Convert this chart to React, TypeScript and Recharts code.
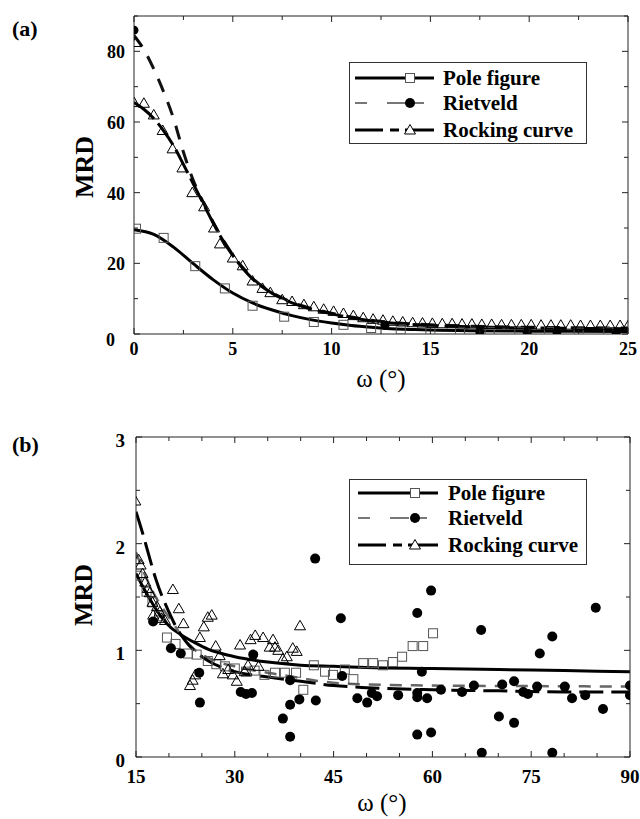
import React from "react";
import { ComposedChart, Line, Scatter, XAxis, YAxis, Legend } from "recharts";

type P = [number, number];
const FONT = "Liberation Serif, Times New Roman, DejaVu Serif, serif";

// ---------- Panel (a) ----------
const xTicksA = [0, 2.5, 5, 7.5, 10, 12.5, 15, 17.5, 20, 22.5, 25];
const yTicksA = [0, 10, 20, 30, 40, 50, 60, 70, 80, 90];
const poleA: P[] = [[0.1,29.8],[1.5,27.2],[3.1,19.2],[4.6,12.9],[6.0,8.0],[7.6,4.9],[9.1,3.4],[10.6,2.6],[12.0,1.7],[13.5,1.3],[15.0,0.7],[16.5,0.6],[18.0,0.6],[19.5,0.5],[21.0,0.6],[22.5,0.4],[24.0,0.5]];
const rietA: P[] = [[0,86],[12.7,2.5],[17.5,0.6],[19.9,0.5],[21.4,0.6],[24.4,0.2]];
const rockA: P[] = [[0.1,82.5],[0,65.5],[0.5,65.3],[1.0,62],[1.45,57.6],[1.95,52.4],[2.45,47],[2.95,40],[3.55,36],[4.05,30],[4.35,25.5],[5.0,21.5],[5.5,19.3],[6.0,15],[6.5,12.9],[6.9,11.7],[7.5,9.7],[8.0,9.2],[8.6,8.3],[9.1,7.7],[9.6,7.0],[10.1,6.4],[10.6,5.8],[11.1,5.2],[11.6,4.6],[12.1,4.2],[12.6,3.9],[13.1,3.6],[13.6,3.4],[14.1,3.2],[14.6,3.1],[15.1,3.0],[15.6,2.9],[16.1,2.9],[16.6,2.8],[17.1,2.8],[17.6,2.7],[18.1,2.7],[18.6,2.6],[19.1,2.6],[19.6,2.6],[20.1,2.6],[20.6,2.5],[21.1,2.5],[21.6,2.5],[22.1,2.5],[22.6,2.4],[23.1,2.4],[23.6,2.4],[24.1,2.4],[24.6,2.4],[25.0,2.3]];
const poleFitA: P[] = [[0,29.5],[1,28.2],[2,24.6],[3,19.9],[4,15.4],[5,11.6],[6,8.8],[7,6.8],[8,5.2],[9,4.0],[10,3.1],[11,2.4],[12,1.9],[13,1.5],[14,1.3],[15,1.1],[17,0.9],[20,0.8],[25,0.7]];
const rockFitA: P[] = [[0,65.5],[0.5,63.6],[1,61],[1.5,57.5],[2,53.3],[2.5,48],[3,42.5],[3.5,37],[4,31.5],[4.5,26.5],[5,22.2],[5.5,18.6],[6,15.6],[7,11.5],[8,8.8],[9,7],[10,5.7],[11,4.6],[12,3.7],[13,3.1],[14,2.7],[16,2.2],[18,1.9],[20,1.7],[22,1.6],[25,1.5]];
const rietFitA: P[] = [[0,84.5],[0.5,80.5],[1,75],[1.5,68.5],[2,61],[2.5,51.5],[3,43.5],[3.5,37.3],[4,31.7],[4.5,26.7],[5,22.4],[5.5,18.8],[6,15.8],[7,11.7],[8,9],[9,7.2],[10,5.9],[11,4.8],[12,3.9],[13,3.3],[14,2.9],[16,2.4],[18,2.1],[20,1.9],[22,1.8],[25,1.7]];

// ---------- Panel (b) ----------
const xTicksB = [15,20,25,30,35,40,45,50,55,60,65,70,75,80,85,90];
const yTicksB = [0, 0.5, 1, 1.5, 2, 2.5, 3];
const poleB: P[] = [[15.2,1.70],[16.6,1.55],[17.5,1.45],[18.5,1.32],[19.7,1.12],[21.0,1.06],[22.9,0.97],[24.2,0.96],[25.9,0.90],[27.2,0.87],[28.5,0.85],[30.0,0.83],[31.7,0.80],[33.0,0.81],[34.5,0.77],[36.1,0.79],[37.6,0.79],[39.3,0.79],[40.4,0.63],[42.0,0.86],[43.7,0.80],[44.9,0.77],[46.7,0.82],[48.0,0.73],[49.5,0.88],[51.0,0.88],[52.5,0.86],[54.0,0.89],[55.4,0.94],[57.0,1.04],[58.6,1.04],[60.1,1.16]];
const rietB: P[] = [[17.6,1.27],[20.3,1.02],[21.8,0.97],[24.6,0.79],[24.7,0.51],[30.9,0.61],[31.7,0.59],[32.6,0.60],[32.8,0.96],[37.3,0.36],[38.4,0.72],[38.4,0.49],[38.4,0.19],[39.8,0.54],[42.2,1.86],[42.3,0.53],[46.1,1.30],[46.3,0.76],[48.6,0.55],[50.1,0.51],[50.8,0.60],[51.6,0.57],[54.8,0.58],[57.7,1.35],[57.7,0.21],[57.7,0.60],[57.7,0.56],[58.4,0.80],[59.2,0.55],[59.8,1.56],[59.8,0.23],[61.3,0.63],[64.5,0.61],[66.3,0.67],[67.4,1.19],[67.5,0.04],[70.1,0.38],[70.6,0.68],[72.4,0.71],[72.4,0.32],[73.8,0.61],[74.5,0.59],[75.9,0.66],[76.3,0.97],[78.2,1.13],[78.2,0.04],[80.1,0.66],[81.2,0.55],[83.2,0.58],[84.8,1.40],[85.9,0.45],[90.0,0.67],[90.0,0.58]];
const rockB: P[] = [[14.9,2.40],[15.4,1.85],[15.7,1.80],[16.0,1.72],[16.4,1.64],[16.8,1.58],[17.1,1.54],[17.5,1.45],[17.6,1.33],[18.2,1.41],[18.6,1.36],[18.9,1.30],[19.4,1.28],[20.6,1.57],[21.5,1.39],[22.2,1.25],[23.2,0.67],[23.6,0.72],[24.0,0.77],[24.7,1.12],[25.3,1.22],[25.9,1.31],[26.5,1.33],[27.1,1.04],[27.7,0.95],[28.2,0.78],[29.0,0.82],[29.7,0.77],[30.3,0.71],[30.8,1.05],[31.5,0.80],[32.0,0.86],[32.4,1.10],[33.1,1.14],[33.6,0.85],[34.3,1.12],[35.3,1.03],[35.8,1.10],[36.1,1.03],[36.6,1.00],[37.3,0.92],[37.9,0.94],[38.8,1.02],[39.4,0.99],[39.9,1.23]];
const poleFitB: P[] = [[15,1.72],[16,1.6],[17,1.49],[18,1.39],[19,1.3],[20,1.23],[22,1.14],[24,1.07],[26,1.01],[28,0.97],[30,0.94],[35,0.89],[40,0.86],[45,0.85],[50,0.84],[60,0.83],[70,0.82],[80,0.81],[90,0.8]];
const rockFitB: P[] = [[15,2.3],[16,2.1],[17,1.88],[18,1.67],[19,1.5],[20,1.36],[21,1.23],[22,1.13],[23,1.05],[24,0.99],[26,0.9],[28,0.84],[30,0.8],[35,0.75],[40,0.71],[45,0.67],[50,0.65],[60,0.63],[70,0.62],[80,0.61],[90,0.61]];
const rietFitB: P[] = [[15,1.92],[16,1.76],[17,1.62],[18,1.5],[19,1.4],[20,1.31],[21,1.22],[22,1.13],[23,1.06],[24,1.0],[26,0.93],[28,0.88],[30,0.85],[33,0.81],[36,0.78],[40,0.74],[43,0.71],[46,0.69],[50,0.68],[60,0.67],[75,0.665],[90,0.66]];

const legendLabels = ["Pole figure", "Rietveld", "Rocking curve"];

const toObj = (a: P[]) => a.map(([x, y]) => ({ x, y }));
const txt = (size: number, bold: boolean) => ({ fontFamily: FONT, fontSize: size, fontWeight: bold ? 700 : 400 } as React.CSSProperties);

// ---------- marker shapes ----------
const Square = (p: any) => (
  <rect x={p.cx - 4.5} y={p.cy - 4.5} width={9} height={9} fill="none" stroke="#555" strokeWidth={1} />
);
const Tri = (p: any) => (
  <polygon points={`${p.cx},${p.cy - 5.5} ${p.cx - 5.5},${p.cy + 4} ${p.cx + 5.5},${p.cy + 4}`} fill="none" stroke="#000" strokeWidth={1} />
);
const makeDot = (r: number) => (p: any) => <circle cx={p.cx} cy={p.cy} r={r} fill="#000" />;

// ---------- ticks ----------
type Side = "bottom" | "left" | "top" | "right";
const makeTick = (side: Side, isMajor: (v: number) => boolean, fs: number, panel: "a" | "b") => (props: any) => {
  const { x, y, payload } = props;
  const v = payload.value;
  const major = isMajor(v);
  const L = major ? 6 : 4;
  let line = null;
  let label = null;
  if (side === "bottom") {
    line = <line x1={x} y1={y} x2={x} y2={y - L} stroke="#222" />;
    if (major)
      label = (
        <text x={x} y={y + (panel === "a" ? 21 : 26)} textAnchor="middle" style={txt(fs, true)} fill="#000">
          {v}
        </text>
      );
  } else if (side === "top") {
    line = <line x1={x} y1={y} x2={x} y2={y + L} stroke="#222" />;
  } else if (side === "left") {
    line = <line x1={x} y1={y} x2={x + L} y2={y} stroke="#222" />;
    if (major) {
      const zeroA = panel === "a" && v === 0;
      label = (
        <text x={x - (zeroA ? 19 : panel === "a" ? 9 : 11)} y={y + (zeroA ? 12 : panel === "a" ? 7 : 10)} textAnchor="end" style={txt(fs, true)} fill="#000">
          {v}
        </text>
      );
    }
  } else {
    line = <line x1={x} y1={y} x2={x - L} y2={y} stroke="#222" />;
  }
  return (
    <g>
      {line}
      {label}
    </g>
  );
};

// ---------- legend ----------
const LegendBox = ({ w, h, rows, lx0, lx1, mx, tx }: any) => (
  <svg width={w} height={h} style={{ display: "block" }}>
    <rect x={0.5} y={0.5} width={w - 1} height={h - 1} fill="#fff" stroke="#333" strokeWidth={1} />
    <line x1={lx0} y1={rows[0]} x2={lx1} y2={rows[0]} stroke="#000" strokeWidth={3} />
    <rect x={mx - 4.5} y={rows[0] - 4.5} width={9} height={9} fill="#fff" stroke="#555" />
    <line x1={lx0} y1={rows[1]} x2={lx1} y2={rows[1]} stroke="#777" strokeWidth={2} strokeDasharray="12 20 19 6" />
    <circle cx={mx} cy={rows[1]} r={5} fill="#000" />
    <line x1={lx0} y1={rows[2]} x2={lx1} y2={rows[2]} stroke="#000" strokeWidth={3} strokeDasharray="28 7 9 6 40" />
    <polygon points={`${mx},${rows[2] - 5.5} ${mx - 5.5},${rows[2] + 4} ${mx + 5.5},${rows[2] + 4}`} fill="#fff" stroke="#000" />
    {legendLabels.map((t, i) => (
      <text key={t} x={tx} y={rows[i] + 7} style={txt(21, true)} fill="#000">
        {t}
      </text>
    ))}
  </svg>
);

const lineCommon = { type: "monotone" as const, dataKey: "y", dot: false, activeDot: false, isAnimationActive: false, legendType: "none" as const };

export default function App() {
  const majorXA = (v: number) => v % 5 === 0;
  const majorYA = (v: number) => v % 20 === 0;
  const majorXB = (v: number) => v % 15 === 0;
  const majorYB = (v: number) => Number.isInteger(v);
  return (
    <div style={{ position: "absolute", left: 0, top: 0, width: 640, height: 819, background: "#fff" }}>
      {/* Panel (a) */}
      <div style={{ position: "absolute", left: 0, top: 0 }}>
        <ComposedChart width={640} height={400} margin={{ top: 15, right: 11, bottom: 36, left: 94 }}>
          <XAxis xAxisId="b" dataKey="x" type="number" domain={[0, 25]} ticks={xTicksA} interval={0} tickSize={0} tickMargin={0} height={30}
            tick={makeTick("bottom", majorXA, 18, "a")} stroke="#222" allowDataOverflow
            label={{ content: () => (<text x={381} y={387} textAnchor="middle" style={txt(25, false)} fill="#000">ω (°)</text>) }} />
          <XAxis xAxisId="t" orientation="top" dataKey="x" type="number" domain={[0, 25]} ticks={xTicksA} interval={0} tickSize={0} tickMargin={0} height={1}
            tick={makeTick("top", majorXA, 18, "a")} stroke="#222" allowDataOverflow />
          <YAxis yAxisId="l" dataKey="y" type="number" domain={[0, 90]} ticks={yTicksA} interval={0} tickSize={0} tickMargin={0} width={40}
            tick={makeTick("left", majorYA, 18, "a")} stroke="#222" allowDataOverflow
            label={{ content: () => (
              <g>
                <text x={12} y={36} style={txt(22, true)} fill="#000">(a)</text>
                <text x={84} y={167} transform="rotate(-90 84 167)" textAnchor="middle" dominantBaseline="central" style={txt(26, true)} fill="#000">MRD</text>
              </g>
            ) }} />
          <YAxis yAxisId="r" orientation="right" dataKey="y" type="number" domain={[0, 90]} ticks={yTicksA} interval={0} tickSize={0} tickMargin={0} width={1}
            tick={makeTick("right", majorYA, 18, "a")} stroke="#222" allowDataOverflow />
          <Line xAxisId="t" yAxisId="r" data={toObj(poleFitA)} stroke="#000" strokeWidth={3} {...lineCommon} />
          <Line xAxisId="b" yAxisId="l" data={toObj(rietFitA)} stroke="#111" strokeWidth={3} strokeDasharray="14 11" {...lineCommon} />
          <Line xAxisId="b" yAxisId="l" data={toObj(rockFitA)} stroke="#000" strokeWidth={3} strokeDasharray="26 6" {...lineCommon} />
          <Scatter xAxisId="b" yAxisId="l" data={toObj(poleA)} shape={Square} isAnimationActive={false} legendType="none" />
          <Scatter xAxisId="b" yAxisId="l" data={toObj(rockA)} shape={Tri} isAnimationActive={false} legendType="none" />
          <Scatter xAxisId="b" yAxisId="l" data={toObj(rietA)} shape={makeDot(4.5)} isAnimationActive={false} legendType="none" />
          <Legend layout="horizontal" verticalAlign="middle" align="center"
            wrapperStyle={{ position: "absolute", left: 349, top: 62, width: 238, height: 82 }}
            content={() => <LegendBox w={238} h={82} rows={[16, 41, 68]} lx0={6} lx1={85} mx={61} tx={94} />} />
        </ComposedChart>
      </div>

      {/* Panel (b) */}
      <div style={{ position: "absolute", left: 0, top: 400 }}>
        <ComposedChart width={640} height={419} margin={{ top: 36, right: 9, bottom: 32, left: 96 }}>
          <XAxis xAxisId="b" dataKey="x" type="number" domain={[15, 90]} ticks={xTicksB} interval={0} tickSize={0} tickMargin={0} height={30}
            tick={makeTick("bottom", majorXB, 19, "b")} stroke="#222" allowDataOverflow
            label={{ content: () => (<text x={382} y={411} textAnchor="middle" style={txt(25, false)} fill="#000">ω (°)</text>) }} />
          <XAxis xAxisId="t" orientation="top" dataKey="x" type="number" domain={[15, 90]} ticks={xTicksB} interval={0} tickSize={0} tickMargin={0} height={1}
            tick={makeTick("top", majorXB, 19, "b")} stroke="#222" allowDataOverflow />
          <YAxis yAxisId="l" dataKey="y" type="number" domain={[0, 3]} ticks={yTicksB} interval={0} tickSize={0} tickMargin={0} width={40}
            tick={makeTick("left", majorYB, 19, "b")} stroke="#222" allowDataOverflow
            label={{ content: () => (
              <g>
                <text x={12} y={52} style={txt(22, true)} fill="#000">(b)</text>
                <text x={83} y={195} transform="rotate(-90 83 195)" textAnchor="middle" dominantBaseline="central" style={txt(26, true)} fill="#000">MRD</text>
              </g>
            ) }} />
          <YAxis yAxisId="r" orientation="right" dataKey="y" type="number" domain={[0, 3]} ticks={yTicksB} interval={0} tickSize={0} tickMargin={0} width={1}
            tick={makeTick("right", majorYB, 19, "b")} stroke="#222" allowDataOverflow />
          <Line xAxisId="t" yAxisId="r" data={toObj(poleFitB)} stroke="#000" strokeWidth={3} {...lineCommon} />
          <Line xAxisId="b" yAxisId="l" data={toObj(rietFitB)} stroke="#666" strokeWidth={2.5} strokeDasharray="12 9" {...lineCommon} />
          <Line xAxisId="b" yAxisId="l" data={toObj(rockFitB)} stroke="#000" strokeWidth={3} strokeDasharray="24 8" {...lineCommon} />
          <Scatter xAxisId="b" yAxisId="l" data={toObj(poleB)} shape={Square} isAnimationActive={false} legendType="none" />
          <Scatter xAxisId="b" yAxisId="l" data={toObj(rockB)} shape={Tri} isAnimationActive={false} legendType="none" />
          <Scatter xAxisId="b" yAxisId="l" data={toObj(rietB)} shape={makeDot(5)} isAnimationActive={false} legendType="none" />
          <Legend layout="horizontal" verticalAlign="middle" align="center"
            wrapperStyle={{ position: "absolute", left: 349, top: 79, width: 238, height: 86 }}
            content={() => <LegendBox w={238} h={86} rows={[14, 39, 66]} lx0={9} lx1={89} mx={66} tx={99} />} />
        </ComposedChart>
      </div>
    </div>
  );
}
